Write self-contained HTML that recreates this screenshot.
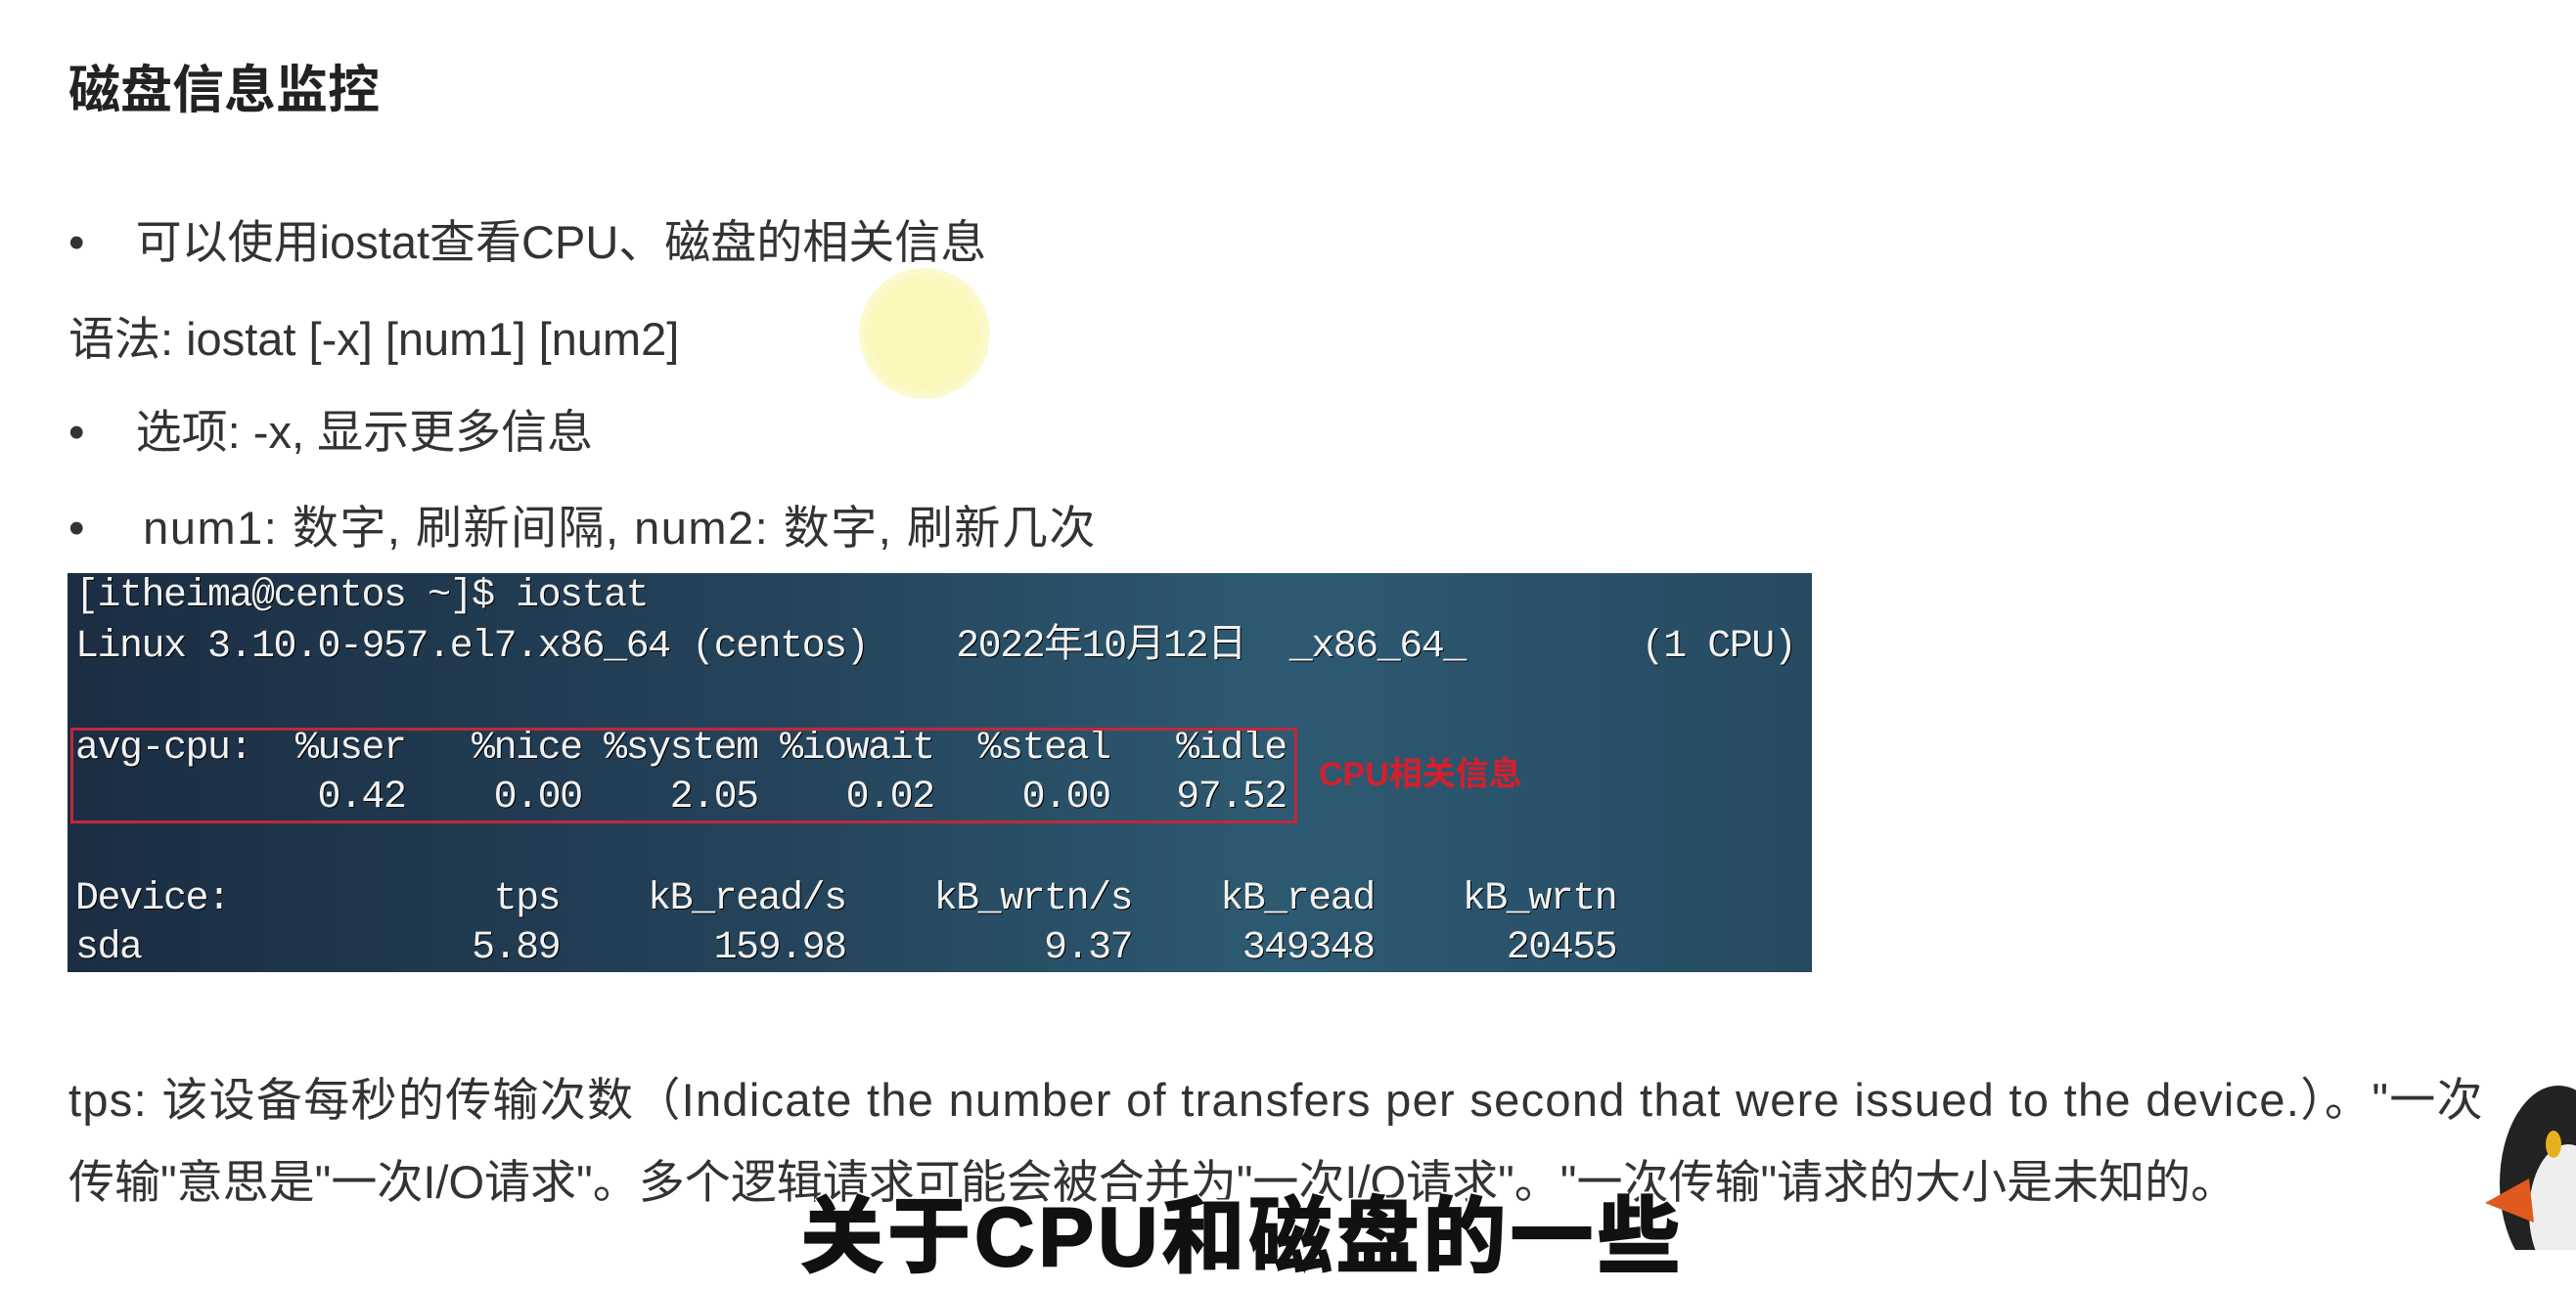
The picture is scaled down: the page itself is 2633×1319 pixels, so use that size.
<!DOCTYPE html>
<html><head><meta charset="utf-8"><style>
body{margin:0;width:2633px;height:1278px;background:#fff;position:relative;overflow:hidden;font-family:"Liberation Sans","Noto Sans CJK SC",sans-serif;color:#333}
.a{position:absolute;white-space:nowrap}
.t{font-size:47px;line-height:1}
.term{position:absolute;left:69px;top:586px;width:1783px;height:408px;background:linear-gradient(90deg,#1b2d42 0%,#24435a 40%,#2d5a72 70%,#264a62 100%);overflow:hidden}
.tl{position:absolute;left:8px;font-family:"Liberation Mono","Noto Sans CJK SC",monospace;font-size:40px;letter-spacing:-1.5px;color:#f2f2f2;white-space:pre;line-height:1;text-shadow:1px 1px 0 #000}
</style></head><body>
<div class="a" style="left:70px;top:50px;font-size:53px;font-weight:bold;color:#222">磁盘信息监控</div>
<div class="a" style="left:878px;top:274px;width:134px;height:134px;border-radius:50%;background:radial-gradient(circle,#fbf7b8 55%,#fdfbe0 80%,rgba(255,255,255,0) 100%)"></div>
<div class="a t" style="left:70px;top:224px">•&nbsp;&nbsp;&nbsp;&nbsp;可以使用iostat查看CPU、磁盘的相关信息</div>
<div class="a t" style="left:70px;top:323px">语法: iostat [-x] [num1] [num2]</div>
<div class="a t" style="left:70px;top:418px">•&nbsp;&nbsp;&nbsp;&nbsp;选项: -x, 显示更多信息</div>
<div class="a t" style="left:70px;top:516px;letter-spacing:1.5px">•&nbsp;&nbsp;&nbsp;&nbsp;num1: 数字, 刷新间隔, num2: 数字, 刷新几次</div>
<div class="term">
<div class="tl" style="top:4px">[itheima@centos ~]$ iostat</div>
<div class="tl" style="top:56px">Linux 3.10.0-957.el7.x86_64 (centos)    2022年10月12日  _x86_64_        (1 CPU)</div>
<div class="tl" style="top:160px">avg-cpu:  %user   %nice %system %iowait  %steal   %idle</div>
<div class="tl" style="top:210px">           0.42    0.00    2.05    0.02    0.00   97.52</div>
<div class="tl" style="top:314px">Device:            tps    kB_read/s    kB_wrtn/s    kB_read    kB_wrtn</div>
<div class="tl" style="top:364px">sda               5.89       159.98         9.37     349348      20455</div>
<div style="position:absolute;left:3px;top:158px;width:1248px;height:92px;border:3px solid #c0283a"></div>
<div class="a" style="left:1279px;top:178px;font-size:34px;font-weight:bold;color:#d3202e">CPU相关信息</div>
</div>
<div class="a t" style="left:70px;top:1101px;letter-spacing:1.3px">tps: 该设备每秒的传输次数（Indicate the number of transfers per second that were issued to the device.）。"一次</div>
<div class="a t" style="left:70px;top:1185px">传输"意思是"一次I/O请求"。多个逻辑请求可能会被合并为"一次I/O请求"。"一次传输"请求的大小是未知的。</div>
<div class="a" style="left:818px;top:1196px;font-size:85px;font-weight:bold;color:#111;letter-spacing:4px;-webkit-text-stroke:2px #111;text-shadow:0 0 3px #fff,3px 0 0 #fff,-3px 0 0 #fff,0 3px 0 #fff,0 -3px 0 #fff">关于CPU和磁盘的一些</div>
<svg class="a" style="left:2540px;top:1100px" width="93" height="178">
<ellipse cx="75" cy="110" rx="60" ry="100" fill="#222"/>
<ellipse cx="85" cy="140" rx="40" ry="70" fill="#eee"/>
<ellipse cx="70" cy="70" rx="8" ry="14" fill="#e8b020"/>
<path d="M0 130 L45 105 L50 150 Z" fill="#e05a20"/>
</svg>
</body></html>
